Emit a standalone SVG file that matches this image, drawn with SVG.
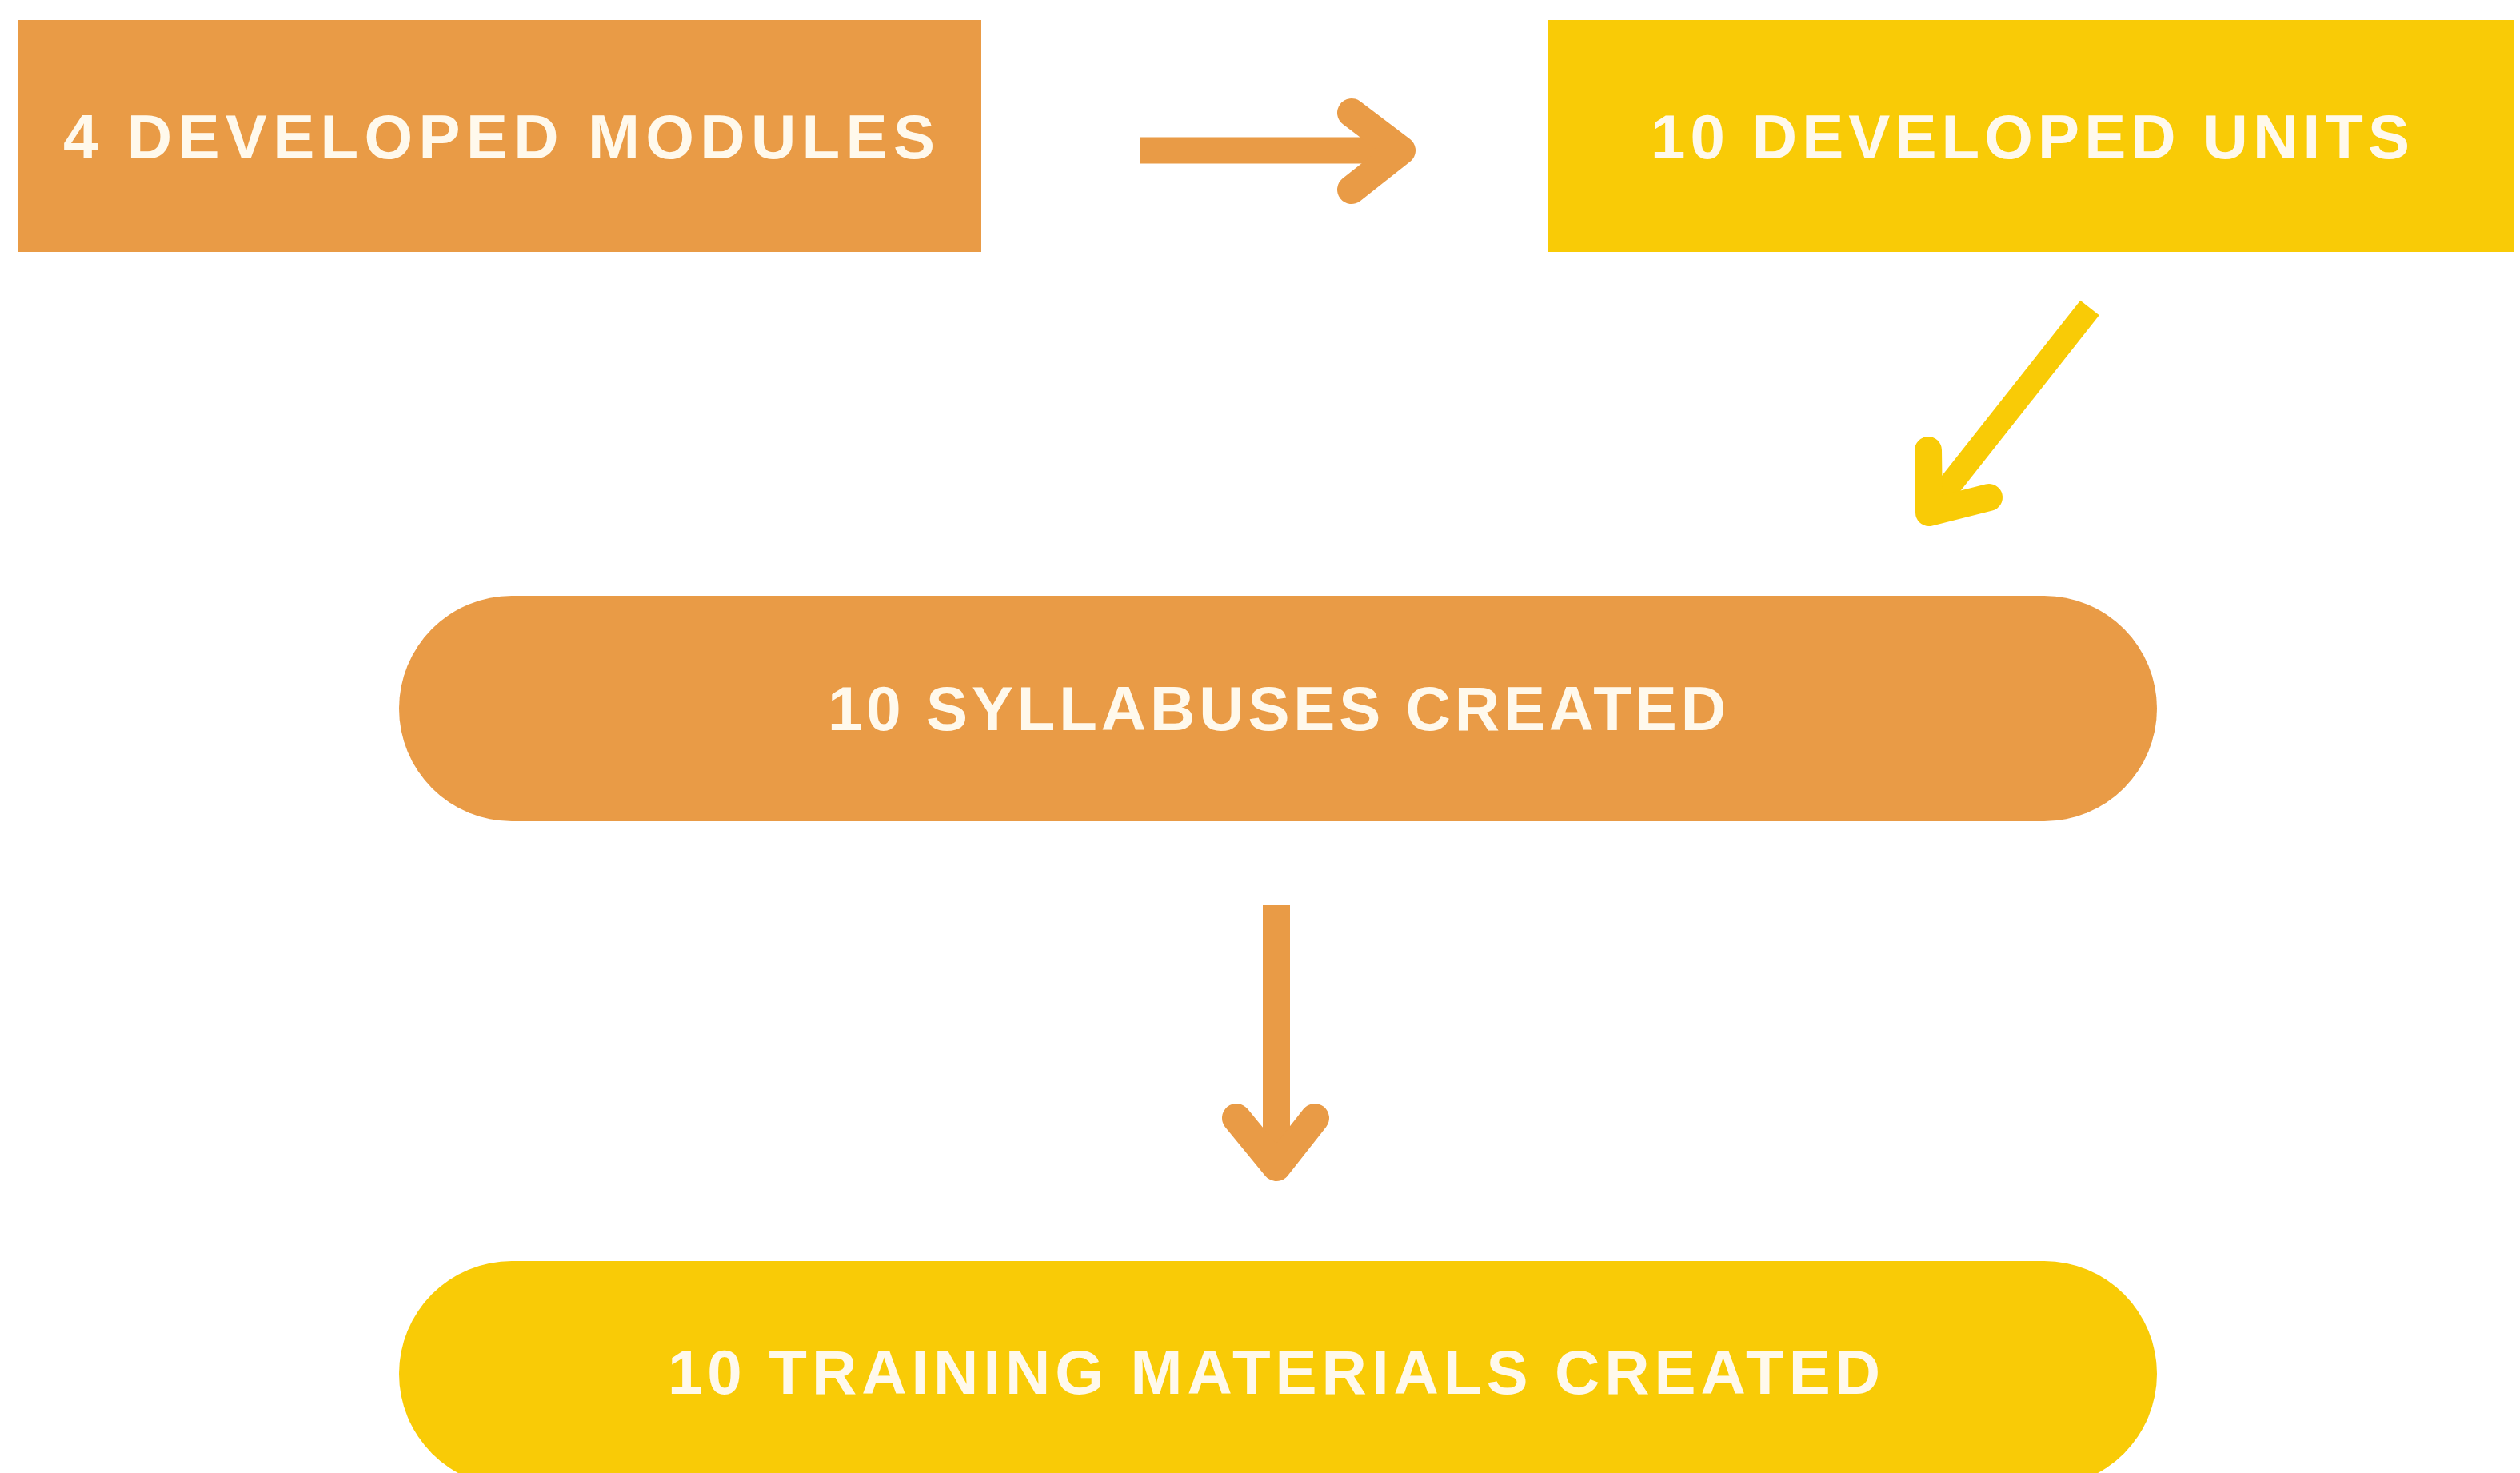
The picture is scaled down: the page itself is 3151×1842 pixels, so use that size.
<svg xmlns="http://www.w3.org/2000/svg" width="3151" height="1842" viewBox="0 0 3151 1842">
  <style>
    .orange { fill: #E99B46; }
    .yellow { fill: #F9CB06; }
    .label { font-family: "Liberation Sans", Arial, sans-serif; font-weight: 700; font-size: 78px; fill: #FFF9EC; }
    .shaft-o { stroke: #E99B46; fill: none; stroke-linecap: butt; }
    .head-o { stroke: #E99B46; fill: none; stroke-linecap: round; stroke-linejoin: round; }
    .shaft-y { stroke: #F9CB06; fill: none; stroke-linecap: butt; }
    .head-y { stroke: #F9CB06; fill: none; stroke-linecap: round; stroke-linejoin: round; }
  </style>
  <rect x="0" y="0" width="3151" height="1842" fill="#FFFFFF"/>

  <g id="node-modules">
    <rect class="orange" x="22" y="25" width="1205" height="290"/>
    <text class="label" x="79" y="198" textLength="1090" lengthAdjust="spacing">4 DEVELOPED MODULES</text>
  </g>

  <g id="node-units">
    <rect class="yellow" x="1936" y="25" width="1207" height="290"/>
    <text class="label" x="2064" y="198" textLength="949" lengthAdjust="spacing">10 DEVELOPED UNITS</text>
  </g>

  <g id="node-syllabuses">
    <rect class="orange" x="499" y="745" width="2198" height="282" rx="141" ry="141"/>
    <text class="label" x="1035" y="913" textLength="1123" lengthAdjust="spacing">10 SYLLABUSES CREATED</text>
  </g>

  <g id="node-training">
    <rect class="yellow" x="499" y="1577" width="2198" height="282" rx="141" ry="141"/>
    <text class="label" x="835" y="1743" textLength="1516" lengthAdjust="spacing">10 TRAINING MATERIALS CREATED</text>
  </g>

  <g id="connectors">
    <g id="arrow-modules-units">
      <line class="shaft-o" x1="1425" y1="188" x2="1748" y2="188" stroke-width="33"/>
      <polyline class="head-o" points="1690,141 1752,188 1690,237" stroke-width="36"/>
    </g>
    <g id="arrow-units-syllabuses">
      <line class="shaft-y" x1="2613" y1="385" x2="2414" y2="637" stroke-width="30"/>
      <polyline class="head-y" points="2411,563 2412,641 2487,622" stroke-width="34"/>
    </g>
    <g id="arrow-syllabuses-training">
      <line class="shaft-o" x1="1596" y1="1132" x2="1596" y2="1455" stroke-width="34"/>
      <polyline class="head-o" points="1546,1398 1596,1459 1644,1398" stroke-width="36"/>
    </g>
  </g>
</svg>
